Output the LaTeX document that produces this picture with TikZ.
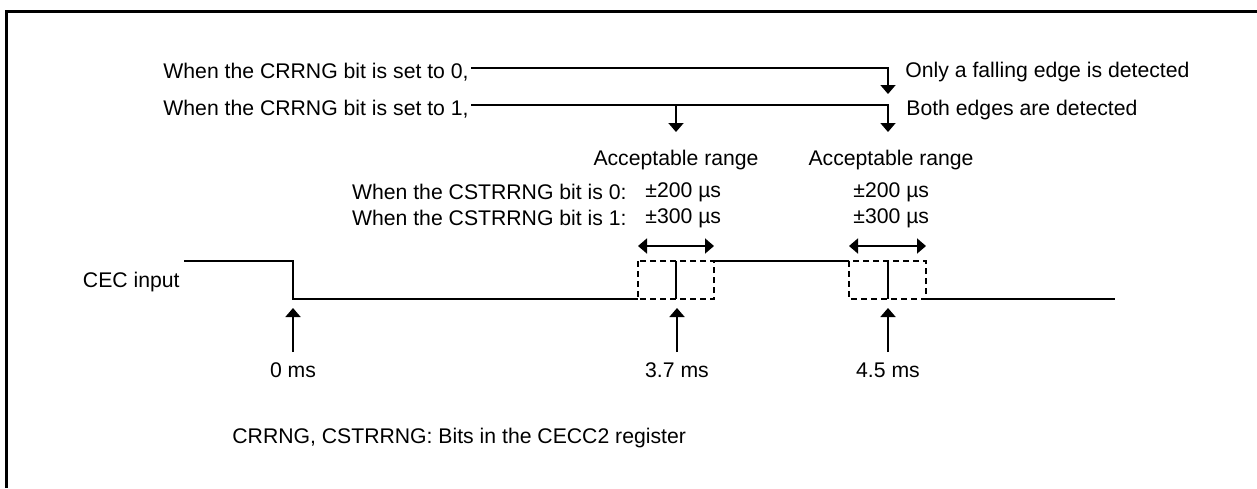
\documentclass[tikz,border=0pt]{standalone}
\usepackage{fontspec}
\setmainfont{Liberation Sans}
\usetikzlibrary{arrows.meta}

\begin{document}
\begin{tikzpicture}[
    x=0.5pt,y=-0.5pt,
    >={Triangle[width=7.5pt,length=4.5pt]},
    every node/.style={font=\fontsize{10.6}{12}\selectfont,inner sep=1pt},
    frame/.style={line width=1.5pt},
    wire/.style={line width=0.9pt},
    signal/.style={line width=0.9pt},
    window/.style={line width=1.3pt,dash pattern=on 3.2pt off 1.8pt},
    tick/.style={inner sep=5pt}
  ]
  \useasboundingbox (0,0) rectangle (1257,488);
  %% Frame (top and left edges)
  \draw[frame] (6,488) -- (6,11) -- (1257,11);
  %% Edge detection selected by CRRNG
  \node[anchor=east] (set0) at (471,72) {When the CRRNG bit is set to 0,};
  \node[anchor=east] (set1) at (471,109) {When the CRRNG bit is set to 1,};
  \node[anchor=west] (fall) at (903,72) {Only a falling edge is detected};
  \node[anchor=west] (both) at (904,110) {Both edges are detected};
  \coordinate (tip0) at (888,94);
  \coordinate (tip1) at (888,132);
  \coordinate (br1)  at (676,105);
  \coordinate (tipA) at (676,132);
  \draw[wire,->] ([yshift=2pt]set0.east) -| (tip0);
  \draw[wire,->] ([yshift=2pt]set1.east) -| (tip1);
  \draw[wire,->] (br1) -- (tipA);
  %% Acceptable ranges selected by CSTRRNG
  \node (rng1) at (676,160) {Acceptable range};
  \node (rng2) at (891,160) {Acceptable range};
  \node[anchor=east] (cst0) at (629,192) {When the CSTRRNG bit is 0:};
  \node[anchor=east] (cst1) at (629,218) {When the CSTRRNG bit is 1:};
  \node[anchor=west] (v0a) at (643,192) {±200 µs};
  \node[anchor=west] (v1a) at (643,218) {±300 µs};
  \node[anchor=west] (v0b) at (851,192) {±200 µs};
  \node[anchor=west] (v1b) at (851,218) {±300 µs};
  %% CEC input waveform
  \node[anchor=east] (cec) at (182,282) {CEC input};
  \draw[signal] (184,261) -- (293,261) -- (293,299) -- (638,299);
  \draw[signal] (676,299) -- (676,261);
  \draw[signal] (714,261) -- (849,261);
  \draw[signal] (888,261) -- (888,299);
  \draw[signal] (926,299) -- (1115,299);
  \draw[window] (638,261) rectangle (714,299);
  \draw[window] (849,261) rectangle (926,299);
  \coordinate (w1l) at (638,246);
  \coordinate (w1r) at (714,246);
  \coordinate (w2l) at (849,246);
  \coordinate (w2r) at (926,246);
  \draw[wire,<->] (w1l) -- (w1r);
  \draw[wire,<->] (w2l) -- (w2r);
  %% Timing marks
  \node[tick] (t0) at (293,370) {0 ms};
  \node[tick] (t1) at (677,370) {3.7 ms};
  \node[tick] (t2) at (888,370) {4.5 ms};
  \coordinate (e0) at (293,308);
  \coordinate (e1) at (677,308);
  \coordinate (e2) at (888,308);
  \draw[wire,->] (t0.north) -- (e0);
  \draw[wire,->] (t1.north) -- (e1);
  \draw[wire,->] (t2.north) -- (e2);
  %% Note
  \node[anchor=west] (note) at (230,438) {CRRNG, CSTRRNG: Bits in the CECC2 register};
\end{tikzpicture}
\end{document}
